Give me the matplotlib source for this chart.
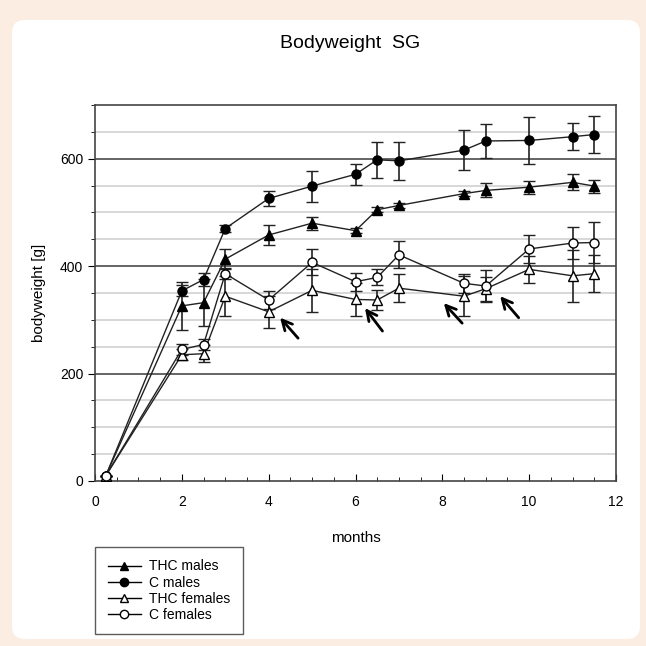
import numpy as np
import matplotlib.pyplot as plt
from matplotlib.patches import FancyBboxPatch
from matplotlib.lines import Line2D

plt.rcParams['font.family'] = ['Liberation Sans', 'DejaVu Sans']

# Datos
months = [0.25, 2, 2.5, 3, 4, 5, 6, 6.5, 7, 8.5, 9, 10, 11, 11.5]

thc_males = [10, 326, 332, 413, 458, 480, 466, 505, 513, 535, 541, 547, 556, 549]
thc_males_err = [0, 44, 44, 19, 19, 12, 5, 5, 5, 5, 13, 12, 15, 12]

c_males = [10, 354, 375, 470, 526, 549, 571, 598, 596, 616, 633, 634, 641, 645]
c_males_err = [0, 10, 12, 6, 14, 29, 20, 34, 36, 37, 31, 43, 25, 34]

thc_females = [10, 235, 237, 344, 315, 355, 338, 337, 359, 344, 358, 394, 382, 386]
thc_females_err = [0, 10, 16, 37, 30, 40, 31, 18, 26, 37, 22, 25, 48, 35]

c_females = [10, 245, 254, 386, 337, 407, 371, 379, 421, 368, 363, 432, 443, 444]
c_females_err = [0, 10, 10, 10, 17, 24, 17, 15, 25, 18, 30, 26, 29, 38]

labels = ['THC males', 'C males', 'THC females', 'C females']

# flechas (punta, cola) en coordenadas de datos
arrow_tips = [(4.22, 308), (6.18, 326), (7.99, 335), (9.29, 348)]
arrow_tails = [(4.72, 262), (6.66, 275), (8.5, 290), (9.8, 300)]

fig = plt.figure(figsize=(6.46, 6.46), dpi=100)
fig.patch.set_facecolor('#fcede3')
card = FancyBboxPatch((12/646, 7/646), 628/646, 619/646,
                      boxstyle='round,pad=0,rounding_size=0.02',
                      transform=fig.transFigure, facecolor='white',
                      edgecolor='none', zorder=-10)
fig.patches.append(card)

ax = fig.add_axes([95/646, 1-481/646, 521/646, 376/646])
ax.set_facecolor('white')

for v in range(50, 700, 50):
    if v % 200 == 0:
        ax.axhline(v, color='#3a3a3a', lw=1.1, zorder=1)
    else:
        ax.axhline(v, color='#d4d4d4', lw=1.3, zorder=1)

series = [(thc_males, thc_males_err, '^', 'black'),
          (c_males, c_males_err, 'o', 'black'),
          (thc_females, thc_females_err, '^', 'white'),
          (c_females, c_females_err, 'o', 'white')]

for (vals, err, mk, fc) in series:
    ax.errorbar(months, vals, yerr=err, color='#222222', lw=1,
                elinewidth=1.2, capsize=4, capthick=1.2,
                marker=mk, markersize=6.5, markerfacecolor=fc,
                markeredgecolor='black', markeredgewidth=1, zorder=3)

for tip, tail in zip(arrow_tips, arrow_tails):
    ax.annotate('', xy=tip, xytext=tail,
                arrowprops=dict(arrowstyle='->', lw=2, color='black',
                                mutation_scale=18), zorder=4)

ax.set_xlim(0, 12)
ax.set_ylim(0, 700)
ax.set_xticks(np.arange(0, 13, 2))
ax.set_xticks(np.arange(0, 12.5, 0.5), minor=True)
ax.set_yticks([0, 200, 400, 600])
ax.set_yticks(np.arange(0, 701, 50), minor=True)
ax.tick_params(axis='x', which='both', direction='in', labelsize=10, pad=10)
ax.tick_params(axis='y', which='both', direction='out', labelsize=10)
ax.tick_params(which='major', length=5)
ax.tick_params(which='minor', length=3)
for s in ax.spines.values():
    s.set_color('#444444')
    s.set_linewidth(1.2)

ax.set_xlabel('months', fontsize=11, labelpad=16)
ax.set_ylabel('bodyweight [g]', fontsize=11, labelpad=10)
fig.text(350/646, 1-44/646, 'Bodyweight  SG', fontsize=14,
         ha='center', va='center')

handles = []
for (vals, err, mk, fc), lab in zip(series, labels):
    handles.append(Line2D([], [], color='black', lw=1, marker=mk,
                          markersize=6, markerfacecolor=fc,
                          markeredgecolor='black', label=lab))
leg = fig.legend(handles=handles, loc='upper left',
                 bbox_to_anchor=(95/646, 1-547/646), fontsize=10,
                 frameon=True, fancybox=False, handlelength=2.4,
                 labelspacing=0.15, borderpad=0.9, handletextpad=0.6,
                 borderaxespad=0)
leg.get_frame().set_edgecolor('#333333')
leg.get_frame().set_linewidth(1)

plt.savefig('out.png', dpi=100, facecolor=fig.get_facecolor())
